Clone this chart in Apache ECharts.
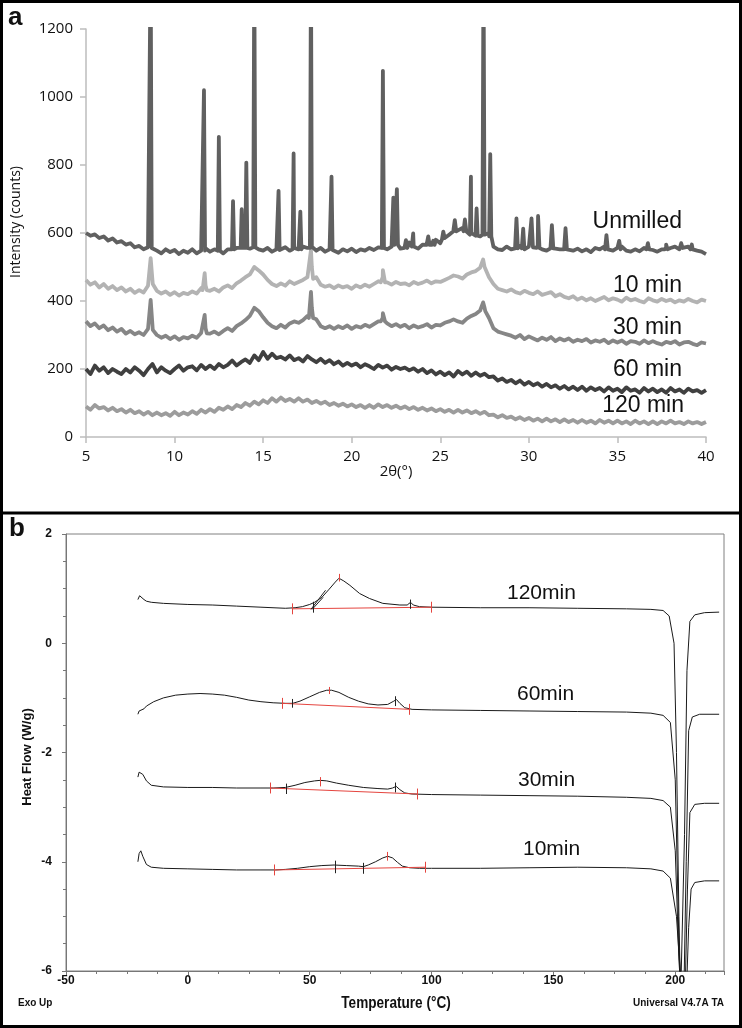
<!DOCTYPE html>
<html><head><meta charset="utf-8">
<script src="https://cdn.jsdelivr.net/npm/echarts@6/dist/echarts.min.js"></script>
<style>html,body{margin:0;padding:0;background:#fff}#c{width:742px;height:1028px}</style>
</head><body><div id="c"></div>
<script>
// ---------- Panel a: XRD (2θ grid 5..40 step 0.25) ----------
const xrdStart = 5, xrdStep = 0.25, xrdCount = 141;
const xrdTicks = [5, 10, 15, 20, 25, 30, 35, 40];
const unmilledVals = [
600,592,596,585, 590,578,584,572, 576,566,570,558, 562,552,558,556,
548,540,552,544, 550,538,548,542, 552,540,548,555, 545,552,548,540,
552,548,556,560, 558,554,560,552, 548,556,545,552, 550,558,548,556,
552,560,556,560, 548,556,545,552, 548,542,552,546, 554,544,552,548,
556,550,558,560, 552,560,562,554, 560,572,560,554, 566,572,562,580,
570,585,595,612, 600,615,605,600, 595,590,595,600, 560,552,550,560,
552,558,562,552, 560,556,562,552, 548,560,554,552, 560,552,548,554,
546,552,544,556, 552,560,550,548, 556,560,548,545, 552,546,556,562,
550,545,552,558, 556,560,552,558, 560,552,548,545, 538];
// [2θ, peak intensity, local base, half width]
const unmilledPeaks = [
[8.65,1400,556,0.06],[11.66,1020,548,0.06],[12.5,883,548,0.06],[13.3,694,552,0.06],
[13.79,670,556,0.06],[14.05,807,556,0.06],[14.5,1400,558,0.06],[15.87,724,550,0.06],
[16.72,834,552,0.06],[17.1,663,552,0.06],[17.7,1400,556,0.06],[18.86,766,550,0.06],
[21.76,1077,556,0.06],[22.35,704,565,0.06],[22.55,729,565,0.06],[23.06,579,556,0.08],
[23.47,599,560,0.08],[24.32,590,565,0.08],[24.6,577,565,0.08],[25.17,604,580,0.08],
[25.82,638,605,0.08],[26.39,640,605,0.08],[26.73,766,595,0.06],[27.05,672,592,0.06],
[27.44,1400,595,0.06],[27.82,832,590,0.06],[29.3,643,555,0.08],[29.68,613,555,0.08],
[30.15,643,558,0.08],[30.52,650,556,0.08],[31.3,623,555,0.08],[32.07,614,552,0.08],
[34.38,594,552,0.08],[35.1,577,552,0.08],[36.72,570,552,0.08],[37.75,566,552,0.08],
[38.6,570,556,0.08],[39.2,566,552,0.08]];
const min10Vals = [
462,448,455,440, 450,436,444,432, 440,428,436,424, 432,425,445,462,
430,422,428,418, 426,416,424,420, 428,422,438,446, 430,436,428,440,
446,438,452,460, 470,478,500,490, 478,462,450,444, 452,445,458,450,
456,462,470,500, 470,448,442,446, 438,446,440,444, 436,446,440,448,
442,450,458,470, 455,448,456,450, 452,446,456,450, 454,460,452,458,
456,462,468,475, 472,466,478,484, 488,498,500,470, 450,436,432,428,
434,426,422,430, 424,420,428,418, 422,426,414,420, 412,408,414,404,
410,402,408,400, 406,412,402,408, 404,398,410,402, 406,400,396,408,
402,398,406,400, 404,396,402,398, 406,400,396,404, 400];
const min10Peaks = [[8.65,526,450,0.12],[11.7,482,432,0.12],[17.7,550,465,0.12],[21.76,491,455,0.12],[27.42,522,495,0.12]];
const min30Vals = [
340,326,334,320, 328,314,322,310, 318,304,312,302, 308,300,318,330,
300,292,298,288, 296,286,294,290, 298,292,306,320, 304,310,302,312,
320,312,326,334, 344,356,380,370, 352,336,326,320, 330,322,334,340,
336,344,356,380, 346,326,320,326, 318,326,320,328, 318,326,322,330,
324,332,340,350, 334,326,332,324, 330,320,328,322, 326,332,322,330,
328,336,340,346, 340,336,348,356, 362,372,380,350, 320,310,306,302,
298,292,300,288, 296,290,284,292, 286,294,282,290, 284,290,280,286,
282,288,278,284, 280,286,276,284, 278,284,274,282, 280,274,284,276,
282,276,272,280, 276,282,272,278, 280,274,270,278, 275];
const min30Peaks = [[8.65,403,315,0.12],[11.7,359,305,0.12],[17.7,427,350,0.12],[21.76,364,340,0.12],[27.42,396,370,0.12]];
const min60Vals = [
200,185,210,195, 205,188,200,192, 185,200,190,205, 195,182,200,215,
190,205,195,188, 200,210,195,205, 208,196,212,200, 210,200,215,205,
212,225,210,220, 228,218,240,226, 250,230,245,232, 236,228,240,226,
232,222,238,228, 220,230,218,226, 214,222,210,218, 210,216,205,214,
208,200,212,204, 210,198,206,200, 204,196,202,192, 200,188,196,184,
192,182,190,178, 194,184,192,180, 190,180,186,176, 178,166,172,162,
168,158,166,154, 162,152,158,148, 156,146,152,142, 150,140,148,138,
148,136,146,138, 144,134,146,136, 142,132,146,136, 140,130,144,134,
142,132,140,130, 144,134,140,130, 142,134,138,130, 138];
const min120Vals = [
90,80,94,84, 88,78,86,76, 82,72,80,70, 76,66,74,64,
72,64,70,62, 74,64,72,66, 76,68,80,72, 82,74,86,80,
90,82,94,88, 100,92,104,96, 108,100,114,104, 116,106,112,104,
114,104,110,100, 106,98,104,94, 100,92,98,90, 96,88,94,86,
94,86,96,88, 94,86,92,84, 90,82,88,80, 86,78,84,76,
82,74,80,72, 80,72,78,70, 76,68,74,64, 66,58,64,56,
60,52,58,50, 56,48,54,46, 54,46,52,44, 52,44,50,42,
50,42,48,40, 50,42,48,40, 48,40,46,38, 48,40,46,38,
46,38,46,40, 48,40,44,38, 46,40,44,38, 44];
const xrdNames = ['Unmilled', '10 min', '30 min', '60 min', '120 min'];

// ---------- Panel b: DSC [T (°C), heat flow (W/g)] ----------
const dsc120 = [[-20.5,0.80],[-19.8,0.87],[-19,0.86],[-18,0.80],[-17,0.77],[-15,0.75],[-10,0.73],[0,0.71],[10,0.70],[20,0.68],[30,0.66],[40,0.64],[44,0.65],[47,0.67],[50,0.71],[52,0.75],[55,0.84],[58,0.99],[60.5,1.12],[62,1.19],[64,1.14],[66.5,1.06],[70.5,0.91],[74.5,0.82],[80,0.73],[87,0.70],[90,0.70],[91.4,0.75],[92.5,0.70],[95,0.67],[100,0.66],[120,0.65],[140,0.65],[160,0.64],[180,0.63],[190,0.62],[195,0.60],[197.5,0.50],[199.5,0.0],[200.5,-2.0],[201.5,-5.0],[202.2,-6.5],[203,-6.5],[203.8,-3.5],[204.8,-0.5],[206,0.40],[208,0.52],[212,0.56],[218,0.57]];
const dsc60 = [[-20.5,-1.30],[-20,-1.24],[-19.5,-1.22],[-18,-1.20],[-17,-1.15],[-14,-1.07],[-10,-1.00],[-5,-0.95],[0,-0.93],[5,-0.92],[10,-0.93],[15,-0.95],[20,-0.99],[25,-1.04],[30,-1.07],[35,-1.09],[40,-1.10],[43,-1.10],[46,-1.06],[50,-0.98],[54,-0.90],[57,-0.86],[59,-0.86],[62,-0.90],[66,-0.99],[70,-1.06],[74,-1.11],[78,-1.13],[82,-1.12],[84.5,-1.06],[85.6,-1.03],[87,-1.10],[89,-1.18],[92,-1.21],[100,-1.22],[120,-1.23],[140,-1.24],[160,-1.25],[180,-1.26],[190,-1.28],[195,-1.32],[198,-1.45],[200,-2.5],[201.5,-5.5],[202.5,-6.5],[203.5,-6.5],[204.5,-4.0],[205.5,-1.6],[207,-1.35],[210,-1.30],[218,-1.30]];
const dsc30 = [[-20.5,-2.45],[-20,-2.36],[-19.3,-2.33],[-18.5,-2.40],[-17,-2.52],[-15,-2.60],[-10,-2.63],[0,-2.64],[10,-2.64],[20,-2.65],[30,-2.65],[35,-2.65],[40,-2.64],[44,-2.60],[48,-2.55],[52,-2.52],[54.3,-2.51],[57,-2.52],[61,-2.56],[66,-2.60],[72,-2.64],[78,-2.66],[82,-2.67],[84,-2.65],[85.5,-2.62],[87,-2.68],[89,-2.74],[92,-2.76],[100,-2.77],[120,-2.78],[140,-2.79],[160,-2.80],[180,-2.82],[190,-2.84],[195,-2.88],[198,-3.0],[200,-3.8],[201.5,-5.8],[202.5,-6.5],[204,-6.5],[205,-4.5],[206,-3.1],[208,-2.95],[212,-2.93],[218,-2.93]];
const dsc10 = [[-20.5,-4.00],[-20,-3.85],[-19.3,-3.80],[-18.5,-3.90],[-17,-4.05],[-15,-4.10],[-10,-4.12],[0,-4.13],[10,-4.14],[20,-4.15],[30,-4.15],[36,-4.15],[40,-4.14],[45,-4.12],[50,-4.09],[55,-4.07],[60,-4.06],[65,-4.07],[70,-4.08],[72,-4.09],[74,-4.06],[77,-4.00],[80,-3.93],[82,-3.90],[84,-3.93],[86,-4.01],[88,-4.08],[91,-4.11],[95,-4.12],[100,-4.12],[120,-4.12],[140,-4.11],[160,-4.10],[180,-4.11],[190,-4.13],[195,-4.17],[198,-4.30],[200.5,-5.0],[202,-6.0],[203,-6.5],[204.5,-6.5],[205.5,-5.2],[206.5,-4.5],[208,-4.38],[212,-4.35],[218,-4.35]];
const dscNames = ['120min', '60min', '30min', '10min'];
// integration baselines [T1,H1,T2,H2]
const redBaselines = [[42.7,0.63,100,0.66],[38.8,-1.10,91,-1.21],[33.8,-2.65,94.3,-2.76],[35.5,-4.15,97.5,-4.10]];
// vertical markers [T, H1, H2]
const redMarks = [[42.7,0.53,0.73],[100,0.56,0.76],[62,1.13,1.27],
  [38.8,-1.0,-1.2],[91,-1.11,-1.31],[58,-0.80,-0.93],
  [33.8,-2.55,-2.75],[94.3,-2.66,-2.86],[54.3,-2.45,-2.62],
  [35.5,-4.05,-4.25],[97.5,-4.0,-4.2],[82,-3.82,-3.98]];
const blackMarks = [[51.5,0.56,0.76],[91.4,0.63,0.80],
  [43,-1.02,-1.18],[85.3,-0.97,-1.15],
  [40.4,-2.57,-2.76],[85.3,-2.55,-2.73],
  [60.4,-3.98,-4.21],[71.8,-4.02,-4.22]];
const tangents = [[50.5,0.62,56.5,0.97],[51,0.62,55.5,0.84]];
// annotation texts [T, H, text, align]
const dscNotes = [
[61.6,1.36,'62.47°C','center'],[93.5,0.90,'91.80°C','center'],[43,0.42,'51.89°C','left'],[43,0.20,'56.00J/g','left'],
[58,-0.62,'58.08°C','center'],[89,-0.76,'85.57°C','center'],[34,-1.32,'42.87°C','left'],[34,-1.56,'35.41J/g','left'],
[54.7,-2.36,'54.79°C','center'],[91.5,-2.45,'85.57°C','center'],[34.3,-2.96,'40.53°C','left'],[34.3,-3.20,'32.06J/g','left'],
[55.1,-3.88,'60.64°C','center'],[82.4,-3.73,'82.68°C','center'],[59,-4.34,'72.19°C','left'],[59,-4.61,'24.35J/g','left']];

// ---------- build ----------
const xrdGrid = [];
for (let i = 0; i < xrdCount; i++) xrdGrid.push(+(xrdStart + i * xrdStep).toFixed(2));
function buildXrd(vals, peaks) {
  const pts = vals.map((v, i) => [xrdGrid[i], v]);
  (peaks || []).forEach(p => {
    pts.push([p[0] - p[3], p[2]], [p[0], p[1]], [p[0] + p[3], p[2]]);
  });
  pts.sort((a, b) => a[0] - b[0]);
  return pts;
}
const xrdColors = ['#606060', '#b3b3b3', '#868686', '#404040', '#9c9c9c'];
const xrdData = [
  buildXrd(unmilledVals, unmilledPeaks), buildXrd(min10Vals, min10Peaks),
  buildXrd(min30Vals, min30Peaks), buildXrd(min60Vals, null), buildXrd(min120Vals, null)];

const series = [];
for (let k = 4; k >= 0; k--) {
  series.push({
    type: 'line', name: xrdNames[k], xAxisIndex: 0, yAxisIndex: 0, data: xrdData[k],
    symbol: 'none', clip: true, animation: false,
    lineStyle: { color: xrdColors[k], width: 3.8, join: 'round' }, z: 2 + (4 - k)
  });
}
[dsc120, dsc60, dsc30, dsc10].forEach((d, i) => {
  series.push({
    type: 'line', name: dscNames[i], xAxisIndex: 1, yAxisIndex: 1, data: d,
    symbol: 'none', clip: true, animation: false,
    lineStyle: { color: '#1a1a1a', width: 1 }
  });
});
series.push({
  type: 'lines', coordinateSystem: 'cartesian2d', xAxisIndex: 1, yAxisIndex: 1, animation: false,
  lineStyle: { color: '#e5453f', width: 1, opacity: 1 },
  data: redBaselines.map(b => ({ coords: [[b[0], b[1]], [b[2], b[3]]] }))
    .concat(redMarks.map(m => ({ coords: [[m[0], m[1]], [m[0], m[2]]] }))), z: 5
});
series.push({
  type: 'lines', coordinateSystem: 'cartesian2d', xAxisIndex: 1, yAxisIndex: 1, animation: false,
  lineStyle: { color: '#222', width: 1, opacity: 1 },
  data: blackMarks.map(m => ({ coords: [[m[0], m[1]], [m[0], m[2]]] }))
    .concat(tangents.map(t => ({ coords: [[t[0], t[1]], [t[2], t[3]]] }))), z: 6
});
series.push({
  type: 'scatter', xAxisIndex: 1, yAxisIndex: 1, animation: false, symbolSize: 1,
  itemStyle: { opacity: 0 }, silent: true,
  data: dscNotes.map(n => ({
    value: [n[0], n[1]],
    label: { show: true, position: 'inside', formatter: n[2], align: n[3], verticalAlign: 'middle',
      color: '#222', fontSize: 12, fontFamily: 'Liberation Sans, Arial' }
  }))
});

const txt = (x, y, text, font, align, extra) => Object.assign({
  type: 'text', x: x, y: y, z: 100,
  style: { text: text, font: font, fill: '#111', align: align || 'left', verticalAlign: 'middle',
    textAlign: align || 'left', textVerticalAlign: 'middle' }
}, extra || {});

const graphics = [
  txt(8, 18, 'a', 'bold 26px "Liberation Sans"'),
  txt(9, 529, 'b', 'bold 26px "Liberation Sans"'),
  txt(682, 222, xrdNames[0], '23px "Liberation Sans"', 'right'),
  txt(682, 286, xrdNames[1], '23px "Liberation Sans"', 'right'),
  txt(682, 328, xrdNames[2], '23px "Liberation Sans"', 'right'),
  txt(682, 370, xrdNames[3], '23px "Liberation Sans"', 'right'),
  txt(684, 406, xrdNames[4], '23px "Liberation Sans"', 'right'),
  txt(16, 222, 'Intensity (counts)', '14px "Open Sans"', 'center', { rotation: Math.PI / 2 }),
  txt(396, 472, '2θ(°)', '15px "Open Sans"', 'center'),
  txt(507, 593, dscNames[0], '21px "Liberation Sans"'),
  txt(517, 694, dscNames[1], '21px "Liberation Sans"'),
  txt(518, 780, dscNames[2], '21px "Liberation Sans"'),
  txt(523, 849, dscNames[3], '21px "Liberation Sans"'),
  txt(27, 757, 'Heat Flow (W/g)', 'bold 13px "Liberation Sans"', 'center', { rotation: Math.PI / 2 }),
  txt(396, 1003, 'Temperature (°C)', 'bold 17px "Liberation Sans"', 'center', { scaleX: 0.8 }),
  txt(18, 1003, 'Exo Up', 'bold 10px "Liberation Sans"'),
  txt(724, 1003, 'Universal V4.7A TA', 'bold 10px "Liberation Sans"', 'right'),
  { type: 'rect', z: 120, shape: { x: 1.5, y: 1.5, width: 739, height: 1025 },
    style: { fill: 'none', stroke: '#000', lineWidth: 3 } },
  { type: 'line', z: 120, shape: { x1: 0, y1: 513, x2: 742, y2: 513 },
    style: { stroke: '#000', lineWidth: 3 } }
];

const chart = echarts.init(document.getElementById('c'), null, { renderer: 'canvas' });
chart.setOption({
  animation: false,
  backgroundColor: '#fff',
  grid: [
    { left: 86, right: 36, top: 29, bottom: 591, containLabel: false },
    { left: 66, right: 18, top: 534, bottom: 57, containLabel: false, show: true,
      borderColor: '#808080', borderWidth: 1, backgroundColor: 'transparent' }
  ],
  xAxis: [
    { type: 'value', gridIndex: 0, min: xrdTicks[0], max: xrdTicks[xrdTicks.length - 1], interval: 5,
      axisLine: { show: true, lineStyle: { color: '#bdbdbd', width: 1.5 } },
      axisTick: { show: true, length: 6, lineStyle: { color: '#bdbdbd', width: 1.5 } },
      splitLine: { show: false },
      axisLabel: { margin: 12, color: '#111', fontSize: 15, fontFamily: 'Open Sans' } },
    { type: 'value', gridIndex: 1, min: -50, max: 220, interval: 50,
      axisLine: { show: true, onZero: false, lineStyle: { color: '#777', width: 1 } },
      axisTick: { show: true, length: 4, lineStyle: { color: '#777' } },
      minorTick: { show: true, splitNumber: 4, length: 3, lineStyle: { color: '#777' } },
      splitLine: { show: false },
      axisLabel: { margin: 4, color: '#111', fontSize: 12, fontWeight: 'bold', fontFamily: 'Liberation Sans', showMaxLabel: false } }
  ],
  yAxis: [
    { type: 'value', gridIndex: 0, min: 0, max: 1200, interval: 200,
      axisLine: { show: true, lineStyle: { color: '#bdbdbd', width: 1.5 } },
      axisTick: { show: true, length: 6, lineStyle: { color: '#bdbdbd', width: 1.5 } },
      splitLine: { show: false },
      axisLabel: { margin: 13, color: '#111', fontSize: 15, fontFamily: 'Open Sans', formatter: v => String(v) } },
    { type: 'value', gridIndex: 1, min: -6, max: 2, interval: 2,
      axisLine: { show: true, onZero: false, lineStyle: { color: '#777', width: 1 } },
      axisTick: { show: true, length: 4, lineStyle: { color: '#777' } },
      minorTick: { show: true, splitNumber: 4, length: 3, lineStyle: { color: '#777' } },
      splitLine: { show: false },
      axisLabel: { margin: 14, color: '#111', fontSize: 12, fontWeight: 'bold', fontFamily: 'Liberation Sans', formatter: v => String(v) } }
  ],
  series: series,
  graphic: graphics
});
</script></body></html>
